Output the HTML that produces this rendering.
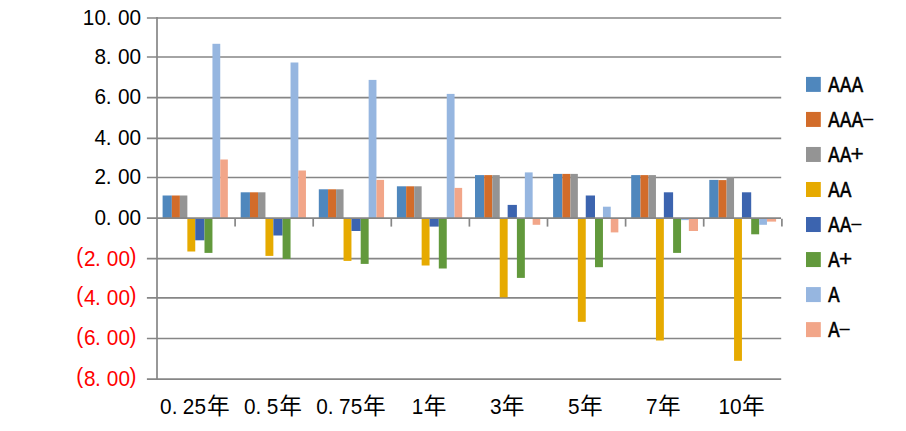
<!DOCTYPE html>
<html lang="zh-CN">
<head>
<meta charset="utf-8">
<title>chart</title>
<style>
html,body{margin:0;padding:0;background:#fff;}
svg{display:block;}
text{font-family:"Liberation Sans","Noto Sans CJK SC",sans-serif;}
.yl{font-size:22.8px;fill:#000;}
.neg{fill:#ff0000;}
.xl{font-size:22.8px;fill:#000;}
.lg{font-size:22.6px;fill:#000;}
.cj{font-size:22.7px;fill:#000;}
</style>
</head>
<body>
<svg width="906" height="431" viewBox="0 0 906 431">
<rect x="0" y="0" width="906" height="431" fill="#ffffff"/>
<g stroke="#868686" stroke-width="1.7" fill="none">
<line x1="146.90" y1="18.00" x2="781.20" y2="18.00"/>
<line x1="146.90" y1="57.00" x2="781.20" y2="57.00"/>
<line x1="146.90" y1="97.70" x2="781.20" y2="97.70"/>
<line x1="146.90" y1="138.30" x2="781.20" y2="138.30"/>
<line x1="146.90" y1="177.50" x2="781.20" y2="177.50"/>
<line x1="146.90" y1="258.70" x2="781.20" y2="258.70"/>
<line x1="146.90" y1="297.80" x2="781.20" y2="297.80"/>
<line x1="146.90" y1="338.50" x2="781.20" y2="338.50"/>
<line x1="146.90" y1="379.10" x2="781.20" y2="379.10"/>
</g>
<g shape-rendering="auto">
<rect x="162.60" y="195.50" width="9.25" height="22.55" fill="#4F87BD"/>
<rect x="171.85" y="195.50" width="8.05" height="22.55" fill="#D26C2A"/>
<rect x="179.90" y="195.50" width="7.45" height="22.55" fill="#949494"/>
<rect x="187.35" y="218.05" width="7.90" height="33.45" fill="#E6AA00"/>
<rect x="195.25" y="218.05" width="9.25" height="22.25" fill="#3C64AF"/>
<rect x="204.50" y="218.05" width="7.95" height="34.85" fill="#62993C"/>
<rect x="212.45" y="43.80" width="7.80" height="174.25" fill="#96B6E0"/>
<rect x="220.25" y="159.50" width="7.60" height="58.55" fill="#F2A689"/>
<rect x="240.70" y="192.30" width="9.25" height="25.75" fill="#4F87BD"/>
<rect x="249.95" y="192.30" width="8.05" height="25.75" fill="#D26C2A"/>
<rect x="258.00" y="192.30" width="7.45" height="25.75" fill="#949494"/>
<rect x="265.45" y="218.05" width="7.90" height="37.85" fill="#E6AA00"/>
<rect x="273.35" y="218.05" width="9.25" height="17.45" fill="#3C64AF"/>
<rect x="282.60" y="218.05" width="7.95" height="40.85" fill="#62993C"/>
<rect x="290.55" y="62.50" width="7.80" height="155.55" fill="#96B6E0"/>
<rect x="298.35" y="170.50" width="7.60" height="47.55" fill="#F2A689"/>
<rect x="318.80" y="189.30" width="9.25" height="28.75" fill="#4F87BD"/>
<rect x="328.05" y="189.30" width="8.05" height="28.75" fill="#D26C2A"/>
<rect x="336.10" y="189.30" width="7.45" height="28.75" fill="#949494"/>
<rect x="343.55" y="218.05" width="7.90" height="42.85" fill="#E6AA00"/>
<rect x="351.45" y="218.05" width="9.25" height="12.95" fill="#3C64AF"/>
<rect x="360.70" y="218.05" width="7.95" height="45.85" fill="#62993C"/>
<rect x="368.65" y="79.90" width="7.80" height="138.15" fill="#96B6E0"/>
<rect x="376.45" y="179.90" width="7.60" height="38.15" fill="#F2A689"/>
<rect x="396.90" y="186.30" width="9.25" height="31.75" fill="#4F87BD"/>
<rect x="406.15" y="186.30" width="8.05" height="31.75" fill="#D26C2A"/>
<rect x="414.20" y="186.30" width="7.45" height="31.75" fill="#949494"/>
<rect x="421.65" y="218.05" width="7.90" height="47.45" fill="#E6AA00"/>
<rect x="429.55" y="218.05" width="9.25" height="8.55" fill="#3C64AF"/>
<rect x="438.80" y="218.05" width="7.95" height="50.45" fill="#62993C"/>
<rect x="446.75" y="93.90" width="7.80" height="124.15" fill="#96B6E0"/>
<rect x="454.55" y="187.90" width="7.60" height="30.15" fill="#F2A689"/>
<rect x="475.00" y="175.10" width="9.25" height="42.95" fill="#4F87BD"/>
<rect x="484.25" y="175.10" width="8.05" height="42.95" fill="#D26C2A"/>
<rect x="492.30" y="175.10" width="7.45" height="42.95" fill="#949494"/>
<rect x="499.75" y="218.05" width="7.90" height="79.25" fill="#E6AA00"/>
<rect x="507.65" y="204.90" width="9.25" height="13.15" fill="#3C64AF"/>
<rect x="516.90" y="218.05" width="7.95" height="59.85" fill="#62993C"/>
<rect x="524.85" y="172.40" width="7.80" height="45.65" fill="#96B6E0"/>
<rect x="532.65" y="218.05" width="7.60" height="6.75" fill="#F2A689"/>
<rect x="553.10" y="173.90" width="9.25" height="44.15" fill="#4F87BD"/>
<rect x="562.35" y="173.90" width="8.05" height="44.15" fill="#D26C2A"/>
<rect x="570.40" y="173.90" width="7.45" height="44.15" fill="#949494"/>
<rect x="577.85" y="218.05" width="7.90" height="103.75" fill="#E6AA00"/>
<rect x="585.75" y="195.50" width="9.25" height="22.55" fill="#3C64AF"/>
<rect x="595.00" y="218.05" width="7.95" height="49.15" fill="#62993C"/>
<rect x="602.95" y="206.70" width="7.80" height="11.35" fill="#96B6E0"/>
<rect x="610.75" y="218.05" width="7.60" height="14.35" fill="#F2A689"/>
<rect x="631.20" y="175.10" width="9.25" height="42.95" fill="#4F87BD"/>
<rect x="640.45" y="175.10" width="8.05" height="42.95" fill="#D26C2A"/>
<rect x="648.50" y="175.10" width="7.45" height="42.95" fill="#949494"/>
<rect x="655.95" y="218.05" width="7.90" height="122.45" fill="#E6AA00"/>
<rect x="663.85" y="192.30" width="9.25" height="25.75" fill="#3C64AF"/>
<rect x="673.10" y="218.05" width="7.95" height="34.85" fill="#62993C"/>
<rect x="681.05" y="218.05" width="7.80" height="2.05" fill="#96B6E0"/>
<rect x="688.85" y="218.05" width="9.15" height="12.95" fill="#F2A689"/>
<rect x="709.30" y="179.90" width="9.25" height="38.15" fill="#4F87BD"/>
<rect x="718.55" y="180.10" width="8.05" height="37.95" fill="#D26C2A"/>
<rect x="726.60" y="177.30" width="7.45" height="40.75" fill="#949494"/>
<rect x="734.05" y="218.05" width="7.90" height="142.75" fill="#E6AA00"/>
<rect x="741.95" y="192.30" width="9.25" height="25.75" fill="#3C64AF"/>
<rect x="751.20" y="218.05" width="7.95" height="16.25" fill="#62993C"/>
<rect x="759.15" y="218.05" width="7.80" height="6.75" fill="#96B6E0"/>
<rect x="766.95" y="218.05" width="9.15" height="3.55" fill="#F2A689"/>
</g>
<g stroke="#868686" stroke-width="1.7" fill="none">
<line x1="157.00" y1="17.10" x2="157.00" y2="380.00"/>
<line x1="146.90" y1="218.05" x2="781.00" y2="218.05"/>
<line x1="235.10" y1="218.05" x2="235.10" y2="226.60"/>
<line x1="313.20" y1="218.05" x2="313.20" y2="226.60"/>
<line x1="391.30" y1="218.05" x2="391.30" y2="226.60"/>
<line x1="469.40" y1="218.05" x2="469.40" y2="226.60"/>
<line x1="547.50" y1="218.05" x2="547.50" y2="226.60"/>
<line x1="625.60" y1="218.05" x2="625.60" y2="226.60"/>
<line x1="703.70" y1="218.05" x2="703.70" y2="226.60"/>
<line x1="781.90" y1="218.65" x2="781.90" y2="226.60"/>
</g>
<text class="yl" text-anchor="middle" transform="scale(0.91,1)" x="97.36 110.33 119.34 136.15 148.68" y="24.80">10.00</text>
<text class="yl" text-anchor="middle" transform="scale(0.91,1)" x="110.33 119.34 136.15 148.68" y="63.80">8.00</text>
<text class="yl" text-anchor="middle" transform="scale(0.91,1)" x="110.33 119.34 136.15 148.68" y="104.50">6.00</text>
<text class="yl" text-anchor="middle" transform="scale(0.91,1)" x="110.33 119.34 136.15 148.68" y="145.10">4.00</text>
<text class="yl" text-anchor="middle" transform="scale(0.91,1)" x="110.33 119.34 136.15 148.68" y="184.30">2.00</text>
<text class="yl" text-anchor="middle" transform="scale(0.91,1)" x="110.33 119.34 136.15 148.68" y="224.85">0.00</text>
<text class="yl neg" text-anchor="middle" transform="scale(0.91,1)" x="87.47 98.63 107.58 123.68 136.70 146.21" y="263.00 265.60 265.60 265.60 265.60 263.00">(2.00)</text>
<text class="yl neg" text-anchor="middle" transform="scale(0.91,1)" x="87.47 98.63 107.58 123.68 136.70 146.21" y="302.10 304.70 304.70 304.70 304.70 302.10">(4.00)</text>
<text class="yl neg" text-anchor="middle" transform="scale(0.91,1)" x="87.47 98.63 107.58 123.68 136.70 146.21" y="342.80 345.40 345.40 345.40 345.40 342.80">(6.00)</text>
<text class="yl neg" text-anchor="middle" transform="scale(0.91,1)" x="87.47 98.63 107.58 123.68 136.70 146.21" y="383.40 386.00 386.00 386.00 386.00 383.40">(8.00)</text>
<g><text class="xl" text-anchor="middle" transform="scale(0.91,1)" x="182.23 191.81 207.28 220.08" y="414.50">0.25</text><text class="cj" text-anchor="middle" x="218.25" y="414.30">年</text></g>
<g><text class="xl" text-anchor="middle" transform="scale(0.91,1)" x="274.45 284.04 299.51" y="414.50">0.5</text><text class="cj" text-anchor="middle" x="290.52" y="414.30">年</text></g>
<g><text class="xl" text-anchor="middle" transform="scale(0.91,1)" x="353.87 363.46 378.93 391.73" y="414.50">0.75</text><text class="cj" text-anchor="middle" x="374.45" y="414.30">年</text></g>
<g><text class="xl" text-anchor="middle" transform="scale(0.91,1)" x="458.90" y="414.50">1</text><text class="cj" text-anchor="middle" x="435.07" y="414.30">年</text></g>
<g><text class="xl" text-anchor="middle" transform="scale(0.91,1)" x="544.73" y="414.50">3</text><text class="cj" text-anchor="middle" x="513.17" y="414.30">年</text></g>
<g><text class="xl" text-anchor="middle" transform="scale(0.91,1)" x="630.55" y="414.50">5</text><text class="cj" text-anchor="middle" x="591.27" y="414.30">年</text></g>
<g><text class="xl" text-anchor="middle" transform="scale(0.91,1)" x="716.37" y="414.50">7</text><text class="cj" text-anchor="middle" x="669.37" y="414.30">年</text></g>
<g><text class="xl" text-anchor="middle" transform="scale(0.91,1)" x="795.80 808.60" y="414.50">10</text><text class="cj" text-anchor="middle" x="753.30" y="414.30">年</text></g>
<rect x="806" y="76.90" width="14.8" height="15" fill="#4F87BD"/>
<g><text class="lg" text-anchor="middle" transform="scale(0.752,1)" x="1109.08 1124.57 1140.06" y="92.20" stroke="#000" stroke-width="0.7">AAA</text></g>
<rect x="806" y="111.93" width="14.8" height="15" fill="#D26C2A"/>
<g><text class="lg" text-anchor="middle" transform="scale(0.752,1)" x="1109.08 1124.57 1140.06" y="127.23" stroke="#000" stroke-width="0.7">AAA</text><text class="lg" text-anchor="middle" transform="scale(2.3,1)" x="377.42" y="124.73" style="font-size:18px">-</text></g>
<rect x="806" y="146.96" width="14.8" height="15" fill="#949494"/>
<g><text class="lg" text-anchor="middle" transform="scale(0.752,1)" x="1109.08 1124.57" y="162.26" stroke="#000" stroke-width="0.7">AA</text><text class="lg" text-anchor="middle" x="857.12" y="161.06" style="font-size:22.6px" stroke="#000" stroke-width="0.3">+</text></g>
<rect x="806" y="181.99" width="14.8" height="15" fill="#E6AA00"/>
<g><text class="lg" text-anchor="middle" transform="scale(0.752,1)" x="1109.08 1124.57" y="197.29" stroke="#000" stroke-width="0.7">AA</text></g>
<rect x="806" y="217.02" width="14.8" height="15" fill="#3C64AF"/>
<g><text class="lg" text-anchor="middle" transform="scale(0.752,1)" x="1109.08 1124.57" y="232.32" stroke="#000" stroke-width="0.7">AA</text><text class="lg" text-anchor="middle" transform="scale(2.3,1)" x="372.36" y="229.82" style="font-size:18px">-</text></g>
<rect x="806" y="252.05" width="14.8" height="15" fill="#62993C"/>
<g><text class="lg" text-anchor="middle" transform="scale(0.752,1)" x="1109.08" y="267.35" stroke="#000" stroke-width="0.7">A</text><text class="lg" text-anchor="middle" x="845.48" y="266.15" style="font-size:22.6px" stroke="#000" stroke-width="0.3">+</text></g>
<rect x="806" y="287.08" width="14.8" height="15" fill="#96B6E0"/>
<g><text class="lg" text-anchor="middle" transform="scale(0.752,1)" x="1109.08" y="302.38" stroke="#000" stroke-width="0.7">A</text></g>
<rect x="806" y="322.11" width="14.8" height="15" fill="#F2A689"/>
<g><text class="lg" text-anchor="middle" transform="scale(0.752,1)" x="1109.08" y="337.41" stroke="#000" stroke-width="0.7">A</text><text class="lg" text-anchor="middle" transform="scale(2.3,1)" x="367.29" y="334.91" style="font-size:18px">-</text></g>
</svg>
</body>
</html>
